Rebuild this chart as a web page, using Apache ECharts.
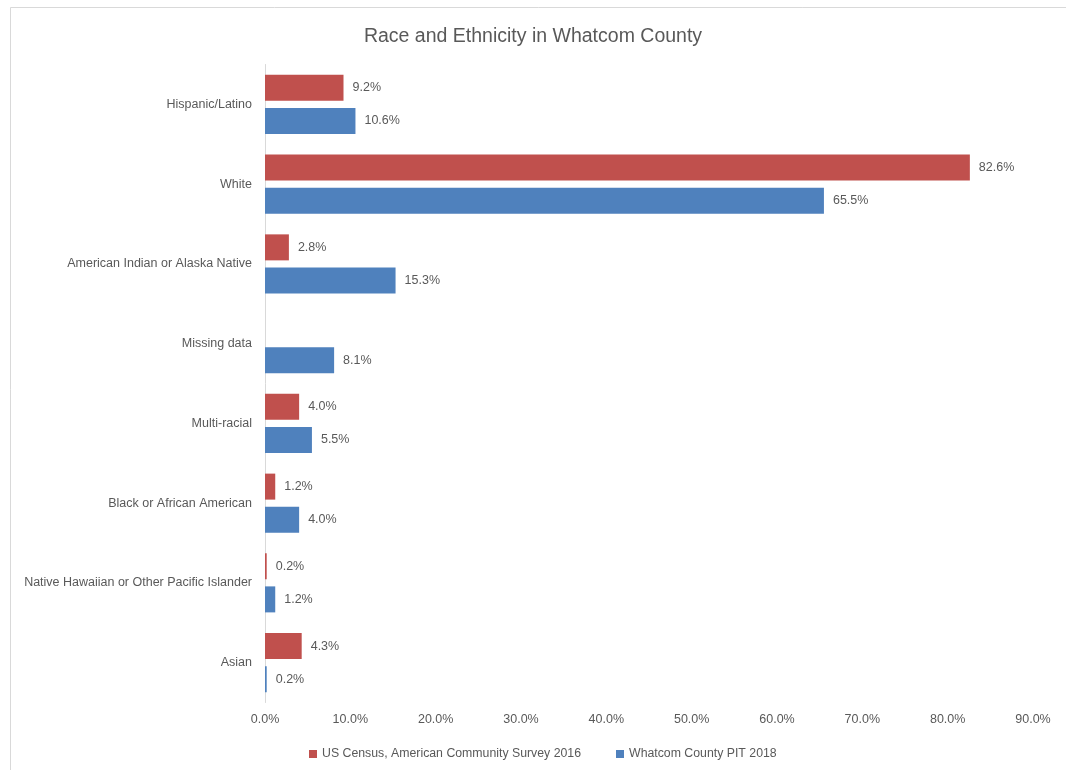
<!DOCTYPE html>
<html><head><meta charset="utf-8">
<script src="https://cdn.jsdelivr.net/npm/echarts@6/dist/echarts.min.js"></script>
<style>html,body{margin:0;padding:0;background:#fff}#c{width:1066px;height:770px}</style>
</head><body><div id="c"></div>
<script>
const categories = ["Hispanic/Latino","White","American Indian or Alaska Native","Missing data","Multi-racial","Black or African American","Native Hawaiian or Other Pacific Islander","Asian"];
const censusValues = [9.2, 82.6, 2.8, null, 4.0, 1.2, 0.2, 4.3];
const pitValues = [10.6, 65.5, 15.3, 8.1, 5.5, 4.0, 1.2, 0.2];
const seriesNames = ["US Census, American Community Survey 2016", "Whatcom County PIT 2018"];
const titleText = "Race and Ethnicity in Whatcom County";

const FONT = "'Liberation Sans', Arial, sans-serif";
const TXT = "#595959";
const chart = echarts.init(document.getElementById('c'), null, {renderer:'canvas'});
chart.setOption({
  animation:false,
  backgroundColor:'#fff',
  textStyle:{fontFamily:FONT},
  graphic:[{type:'rect', shape:{x:10.5,y:7.5,width:1200,height:900}, style:{fill:'none', stroke:'#D9D9D9', lineWidth:1}, silent:true}],
  title:{text:titleText, left:'center', top:22, textStyle:{fontFamily:FONT, fontSize:19.5, fontWeight:'normal', color:TXT}},
  legend:{bottom:5, left:304, icon:'rect', itemWidth:8, itemHeight:8, itemGap:35,
    textStyle:{fontFamily:FONT, fontSize:12.3, color:TXT}, data:seriesNames},
  grid:{left:265, right:33, top:64.5, bottom:67.5, containLabel:false},
  xAxis:{type:'value', min:0, max:90, interval:10,
    axisLabel:{formatter:v=>v.toFixed(1)+'%', color:TXT, fontSize:12.5, fontFamily:FONT, margin:11},
    splitLine:{show:false}, axisLine:{show:false}, axisTick:{show:false}},
  yAxis:{type:'category', data:categories, inverse:true,
    axisLine:{show:true, lineStyle:{color:'#D9D9D9'}}, axisTick:{show:false},
    axisLabel:{color:TXT, fontSize:12.5, fontFamily:FONT, margin:13}},
  series:[
    {name:seriesNames[0], type:'bar', data:censusValues, barWidth:26, barGap:'27%',
      itemStyle:{color:'#C0504D'},
      label:{show:true, position:'right', distance:9, color:TXT, fontSize:12.5, fontFamily:FONT, formatter:p=>p.value==null?'':p.value.toFixed(1)+'%'}},
    {name:seriesNames[1], type:'bar', data:pitValues, barWidth:26,
      itemStyle:{color:'#4F81BD'},
      label:{show:true, position:'right', distance:9, color:TXT, fontSize:12.5, fontFamily:FONT, formatter:p=>p.value==null?'':p.value.toFixed(1)+'%'}}
  ]
});
</script></body></html>
